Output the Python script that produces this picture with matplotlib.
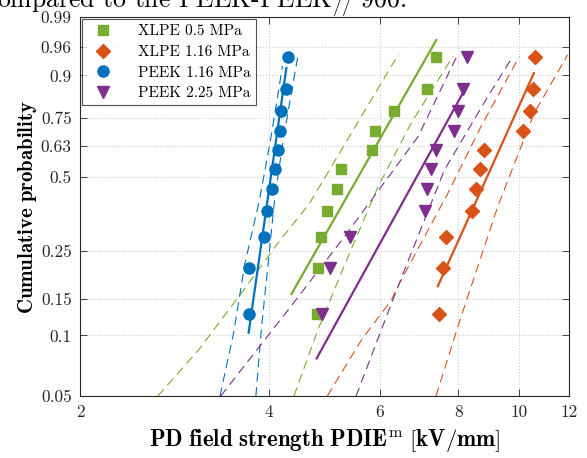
import numpy as np
import matplotlib
matplotlib.use('Agg')
import matplotlib.pyplot as plt
from matplotlib.ticker import NullLocator

plt.rcParams['font.family'] = 'serif'
plt.rcParams['font.serif'] = ['cmr10']
plt.rcParams['mathtext.fontset'] = 'cm'
plt.rcParams['axes.unicode_minus'] = False

# cumulative probability of the measured points (same ranks for all series)
p_pts = [0.127, 0.209, 0.287, 0.369, 0.450, 0.531, 0.613, 0.696, 0.779, 0.859, 0.943]

xlpe_05 = [4.77, 4.78, 4.83, 4.95, 5.13, 5.21, 5.84, 5.90, 6.32, 7.12, 7.38]
xlpe_116 = [7.44, 7.55, 7.66, 8.40, 8.53, 8.65, 8.78, 10.15, 10.41, 10.53, 10.59]
peek_116 = [3.71, 3.72, 3.92, 3.97, 4.04, 4.09, 4.13, 4.16, 4.18, 4.25, 4.29]
peek_225 = [4.86, 5.00, 5.38, 7.08, 7.12, 7.23, 7.37, 7.88, 7.98, 8.15, 8.25]

# weibull fit lines (end points)
fit_xlpe_05 = ([4.34, 7.38], [0.158, 0.970])
fit_xlpe_116 = ([7.42, 10.55], [0.172, 0.906])
fit_peek_116 = ([3.71, 4.26], [0.103, 0.919])
fit_peek_225 = ([4.76, 8.20], [0.077, 0.859])

# confidence bounds
ci_xlpe_05 = [([2.66, 3.09, 3.61, 4.13, 4.63, 6.43], [0.05, 0.085, 0.159, 0.270, 0.394, 0.949]),
              ([4.38, 4.78, 5.34, 5.96, 6.73, 7.85], [0.05, 0.106, 0.235, 0.459, 0.729, 0.945])]
ci_xlpe_116 = [([4.95, 5.61, 6.26, 6.49, 7.70, 8.69, 10.0], [0.05, 0.095, 0.148, 0.184, 0.434, 0.714, 0.944]),
               ([7.37, 8.08, 9.24, 10.56, 11.94], [0.05, 0.123, 0.384, 0.770, 0.947])]
ci_peek_116 = [([3.34, 3.51, 3.66, 3.86, 4.02, 4.20], [0.05, 0.102, 0.219, 0.408, 0.657, 0.924]),
               ([3.81, 3.89, 3.99, 4.08, 4.21, 4.45], [0.05, 0.110, 0.227, 0.408, 0.657, 0.949])]
ci_peek_225 = [([3.35, 4.29, 5.27, 6.90, 7.99], [0.05, 0.133, 0.288, 0.671, 0.949]),
               ([5.50, 6.03, 6.57, 7.24, 7.60, 8.91, 9.70], [0.05, 0.106, 0.205, 0.396, 0.527, 0.833, 0.938])]

labels = ['XLPE 0.5 MPa', 'XLPE 1.16 MPa', 'PEEK 1.16 MPa', 'PEEK 2.25 MPa']
colors = ['#77AC30', '#D95319', '#0072BD', '#7E2F8E']
markers = ['s', 'D', 'o', 'v']
msizes = [7, 7, 8, 8.5]

xticks = [2, 4, 6, 8, 10, 12]
yticks = [0.05, 0.1, 0.15, 0.25, 0.5, 0.63, 0.75, 0.9, 0.96, 0.99]


def fwd(p):
    p = np.clip(np.asarray(p, dtype=float), 1e-9, 1 - 1e-9)
    return np.log(-np.log(1 - p))


def inv(w):
    return 1 - np.exp(-np.exp(w))


fig = plt.figure(figsize=(5.87, 4.58), dpi=100)
ax = fig.add_axes([80 / 587, 62 / 458, 489 / 587, 379 / 458])
ax.set_xscale('log')
ax.set_yscale('function', functions=(fwd, inv))

series = [xlpe_05, xlpe_116, peek_116, peek_225]
fits = [fit_xlpe_05, fit_xlpe_116, fit_peek_116, fit_peek_225]
cis = [ci_xlpe_05, ci_xlpe_116, ci_peek_116, ci_peek_225]

for xs, fit, ci, lab, c, m, ms in zip(series, fits, cis, labels, colors, markers, msizes):
    ax.plot(xs, p_pts, ls='none', marker=m, ms=ms, color=c, label=lab, zorder=4)
    ax.plot(fit[0], fit[1], '-', color=c, lw=1.6, zorder=3)
    for bx, bp in ci:
        ax.plot(bx, bp, '--', color=c, lw=0.8, dashes=(8, 5), zorder=2)

ax.set_xlim(2, 12)
ax.set_ylim(0.05, 0.99)
ax.set_xticks(xticks)
ax.set_xticklabels([str(t) for t in xticks])
ax.xaxis.set_minor_locator(NullLocator())
ax.set_yticks(yticks)
ax.set_yticklabels([str(t) for t in yticks])
ax.yaxis.set_minor_locator(NullLocator())
ax.tick_params(direction='in', top=True, right=True, length=5, width=0.6,
               labelsize=12.5, colors='0.15', pad=6)
ax.grid(True, ls=':', color='0.8', lw=0.8)
for s in ax.spines.values():
    s.set_linewidth(0.8)
    s.set_color('0.15')

ax.set_xlabel(r'$\mathbf{PD\ field\ strength\ PDIE}^{\mathrm{m}}\ \mathbf{[kV/mm]}$',
              fontsize=16.5, labelpad=5)
ax.set_ylabel(r'$\mathbf{Cumulative\ probability}$', fontsize=15, labelpad=1)

leg = ax.legend(loc='upper left', fontsize=11, frameon=True, fancybox=False,
                edgecolor='0.15', borderaxespad=0.15, handletextpad=1.3,
                labelspacing=0.45, borderpad=0.35)
leg.get_frame().set_linewidth(0.8)

fig.text(-0.005, 1 - 9 / 458, r'ompared to the PEEK-PEEK$_{//}$ 900.', fontsize=18.5,
         ha='left', va='baseline')

fig.savefig('out.png', dpi=100)
